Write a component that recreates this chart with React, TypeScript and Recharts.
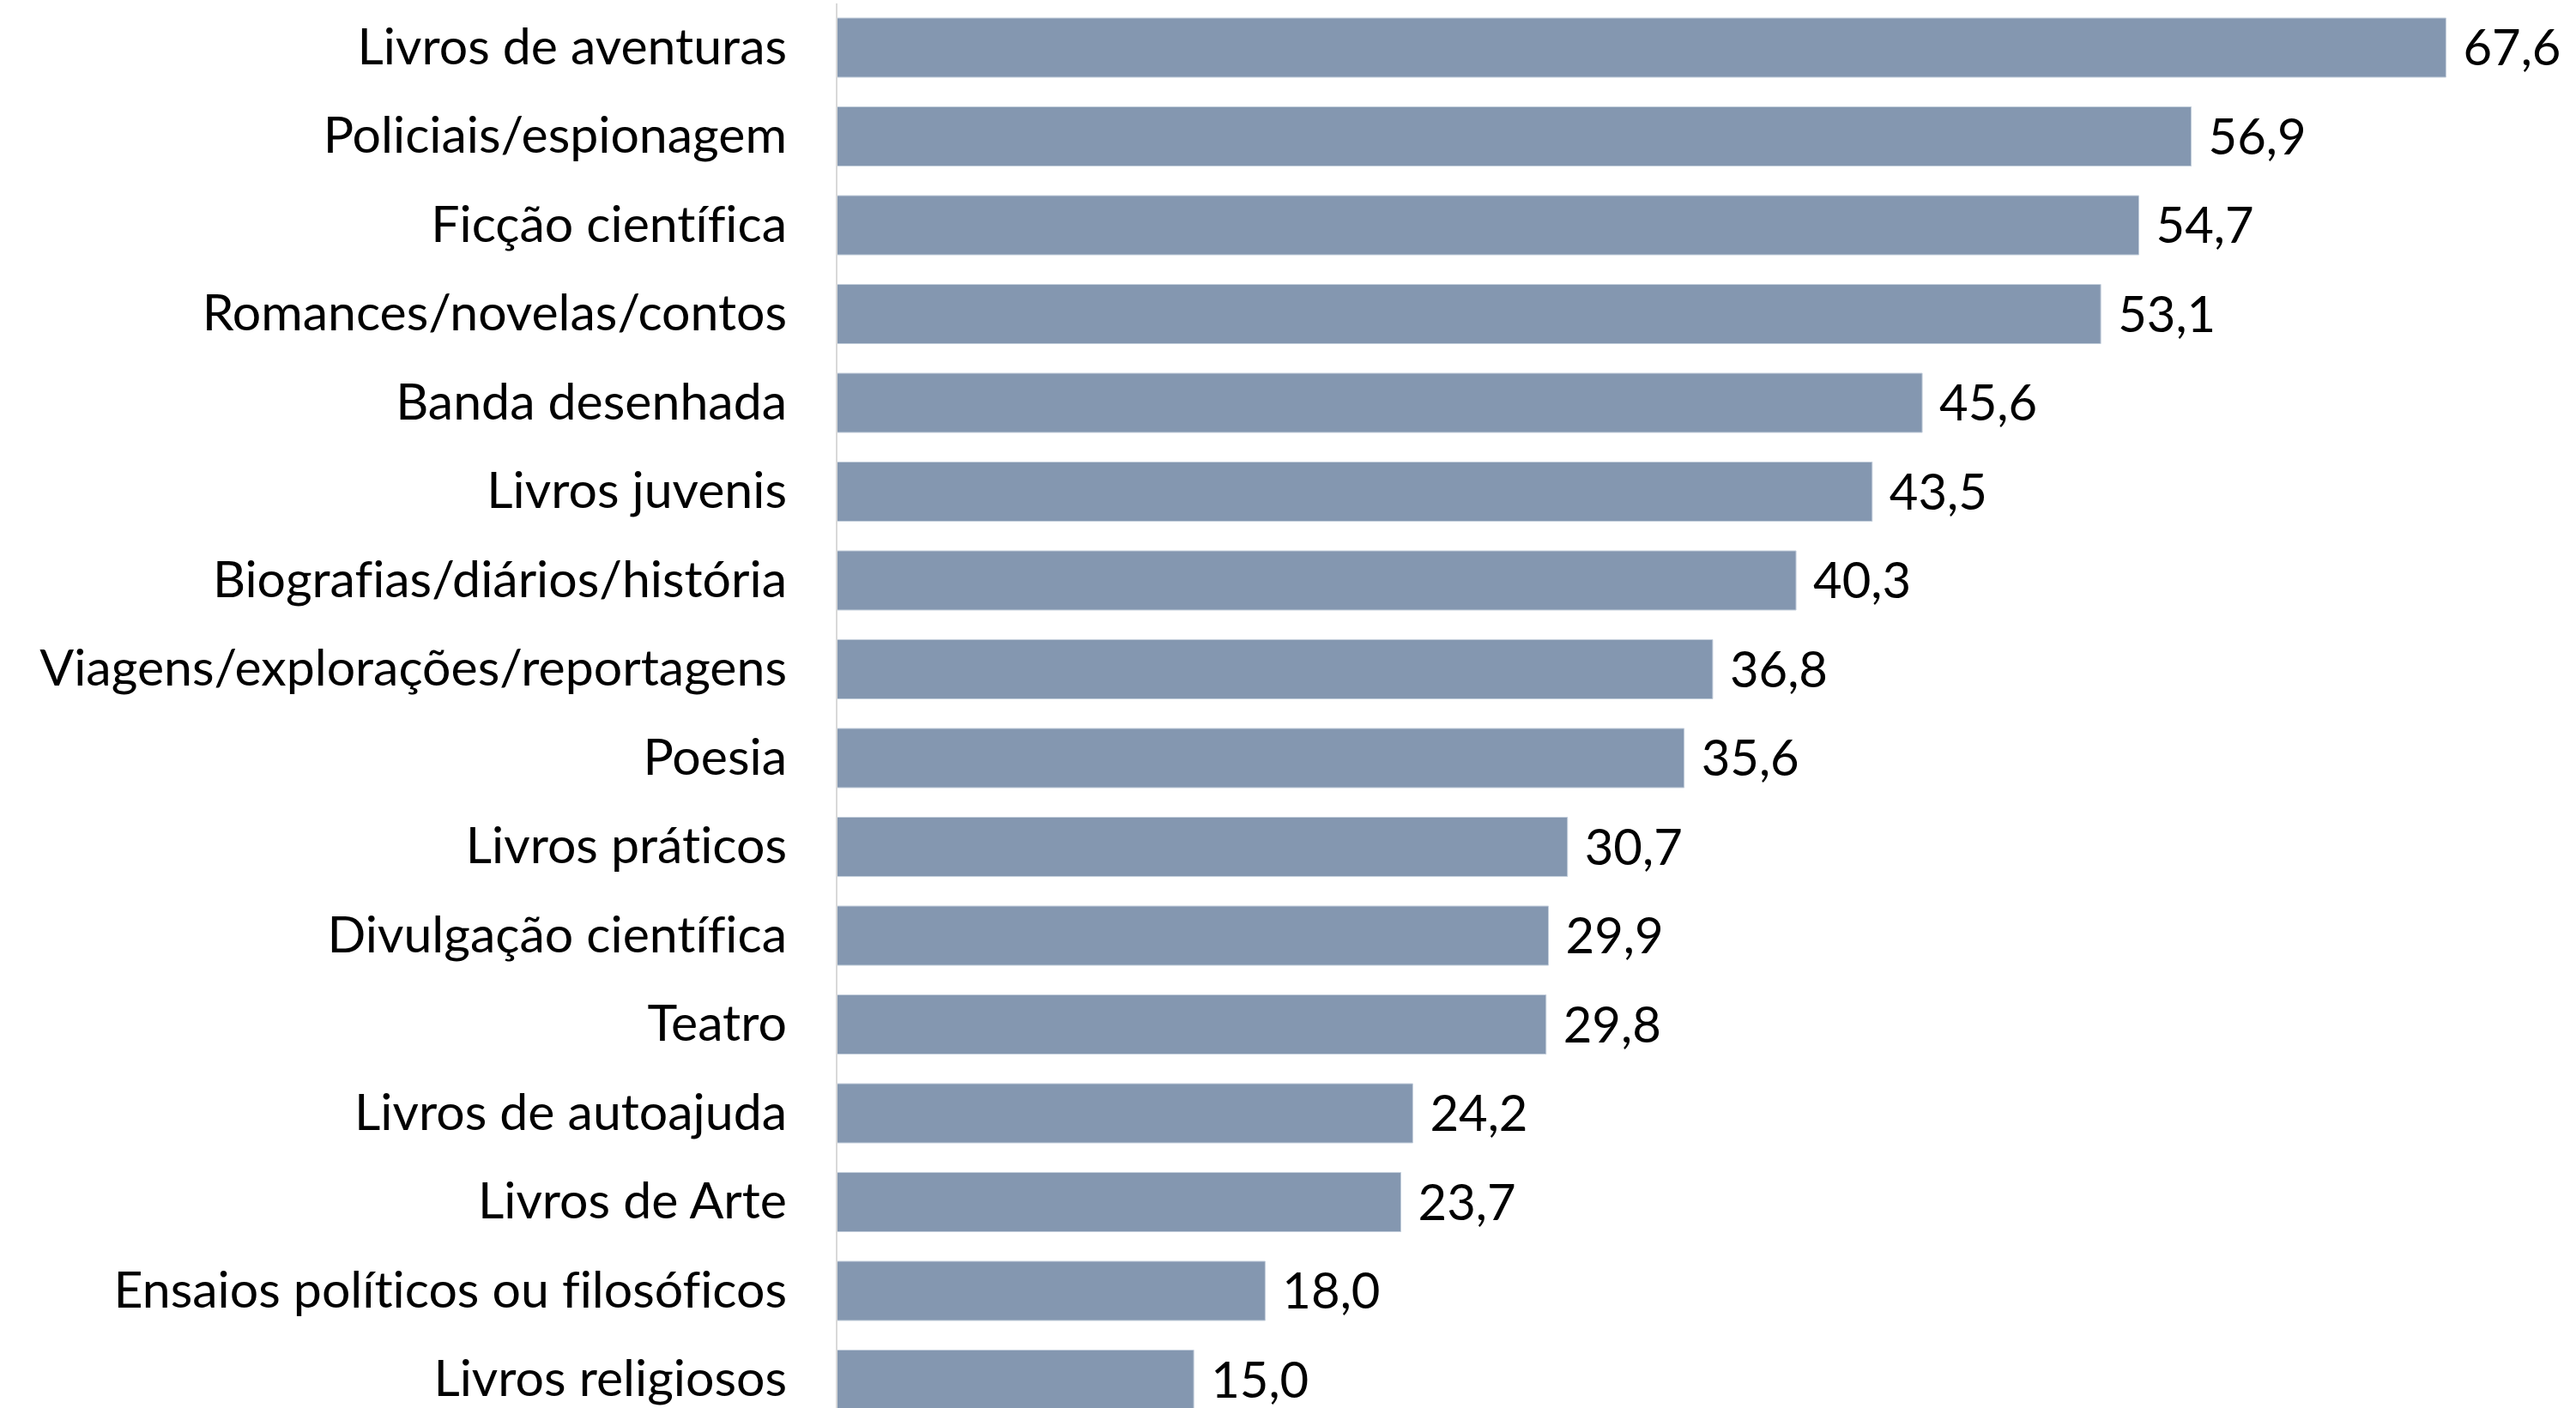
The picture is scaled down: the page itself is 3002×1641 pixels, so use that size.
import React from 'react';
import { BarChart, Bar, XAxis, YAxis, LabelList } from 'recharts';

const categories: string[] = [
  'Livros de aventuras',
  'Policiais/espionagem',
  'Ficção científica',
  'Romances/novelas/contos',
  'Banda desenhada',
  'Livros juvenis',
  'Biografias/diários/história',
  'Viagens/explorações/reportagens',
  'Poesia',
  'Livros práticos',
  'Divulgação científica',
  'Teatro',
  'Livros de autoajuda',
  'Livros de Arte',
  'Ensaios políticos ou filosóficos',
  'Livros religiosos',
];

const values: number[] = [67.6, 56.9, 54.7, 53.1, 45.6, 43.5, 40.3, 36.8, 35.6, 30.7, 29.9, 29.8, 24.2, 23.7, 18.0, 15.0];

const data = categories.map((name, i) => ({ name, value: values[i] }));

const FONT = 'Lato, "Open Sans", sans-serif';

const fmt = (v: any) => Number(v).toFixed(1).replace('.', ',');

export default function App() {
  return (
    <div
      style={{
        position: 'absolute',
        left: 0,
        top: 0,
        width: 3002,
        height: 1641,
        overflow: 'hidden',
        background: '#ffffff',
        fontVariantLigatures: 'none',
        fontFeatureSettings: '"liga" 0, "clig" 0',
      }}
    >
      <BarChart
        width={3002}
        height={1660}
        data={data}
        layout="vertical"
        margin={{ top: 4, right: 85, bottom: 0, left: 0 }}
      >
        <XAxis type="number" domain={[0, 70]} hide />
        <YAxis
          type="category"
          dataKey="name"
          width={975}
          tickLine={false}
          tickSize={0}
          tickMargin={58}
          axisLine={{ stroke: '#d9d9d9', strokeWidth: 2 }}
          tick={{ fill: '#000000', fontSize: 59, fontFamily: FONT, dy: -2 }}
          interval={0}
        />
        <Bar
          dataKey="value"
          fill="#8497b0"
          stroke="#c3cedb"
          strokeWidth={1}
          barSize={69}
          isAnimationActive={false}
        >
          <LabelList
            dataKey="value"
            position="right"
            offset={20}
            formatter={fmt}
            style={{ fill: '#000000', fontSize: 58, fontFamily: FONT }}
          />
        </Bar>
      </BarChart>
    </div>
  );
}
